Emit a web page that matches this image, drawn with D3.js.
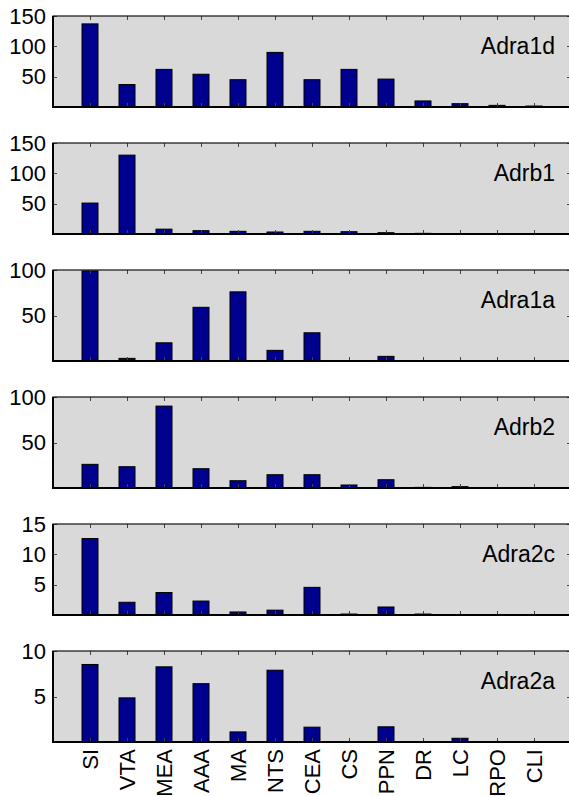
<!DOCTYPE html>
<html>
<head>
<meta charset="utf-8">
<script src="https://cdn.jsdelivr.net/npm/d3@7"></script>
<style>
  body { margin: 0; background: #fff; }
  text { font-family: "Liberation Sans", Arial, sans-serif; fill: #000; }
</style>
</head>
<body>
<svg class="fig" width="569" height="796"></svg>
<script>
var regions = ["SI", "VTA", "MEA", "AAA", "MA", "NTS", "CEA", "CS", "PPN", "DR", "LC", "RPO", "CLI"];

var adra1d = [137, 37, 62, 54, 45, 90, 45, 62, 46, 10, 5.5, 2.7, 1.6];
var adrb1  = [51, 130, 8, 5.5, 4.4, 3.3, 4.4, 3.8, 2.2, 1.1, 0.5, 0.5, 0.5];
var adra1a = [99, 2.9, 20, 59, 76, 11.7, 31, 0, 5.1, 0, 0, 0, 0];
var adrb2  = [26, 23.4, 90, 21.2, 8, 14.6, 14.6, 3.3, 9.1, 0.7, 1.5, 0.4, 0];
var adra2c = [12.6, 2.1, 3.7, 2.3, 0.5, 0.8, 4.56, 0.16, 1.32, 0.16, 0.05, 0.03, 0.03];
var adra2a = [8.52, 4.85, 8.26, 6.41, 1.11, 7.89, 1.63, 0, 1.67, 0, 0.41, 0, 0];

var genes  = ["Adra1d", "Adrb1", "Adra1a", "Adrb2", "Adra2c", "Adra2a"];
var series = [adra1d, adrb1, adra1a, adrb2, adra2c, adra2a];
var yMax   = [150, 150, 100, 100, 15, 10];
var yTicks = [[50, 100, 150], [50, 100, 150], [50, 100], [50, 100], [5, 10, 15], [5, 10]];

var svg = d3.select(".fig"),
    left = 53, right = 571,
    top0 = 16, step = 127, ph = 91,
    tickLen = 4;

var x = d3.scaleLinear()
    .domain([0, regions.length + 1])
    .range([left, right]);
var barW = 16;

series.forEach(function(vals, i) {
  var top = top0 + i * step;
  var y = d3.scaleLinear().domain([0, yMax[i]]).range([top + ph, top]);
  var g = svg.append("g");

  g.append("rect")
      .attr("x", left).attr("y", top)
      .attr("width", right - left).attr("height", ph)
      .attr("fill", "#d9d9d9");

  // bars
  g.selectAll(".bar")
    .data(vals)
    .enter().append("rect")
      .attr("x", function(d, j) { return x(j + 1) - barW / 2; })
      .attr("y", function(d) { return y(d); })
      .attr("width", barW)
      .attr("height", function(d) { return y(0) - y(d); })
      .attr("fill", "#00008f")
      .attr("stroke", "#000")
      .attr("stroke-width", 1);

  // inner ticks, all four sides
  var tk = g.append("g").attr("stroke", "#444").attr("stroke-width", 1);
  regions.forEach(function(r, j) {
    var cx = Math.round(x(j + 1)) + 0.5;
    tk.append("line").attr("x1", cx).attr("x2", cx).attr("y1", top).attr("y2", top + tickLen);
    tk.append("line").attr("x1", cx).attr("x2", cx).attr("y1", top + ph).attr("y2", top + ph - tickLen);
  });
  yTicks[i].forEach(function(t) {
    var cy = Math.round(y(t)) + 0.5;
    tk.append("line").attr("x1", left).attr("x2", left + tickLen).attr("y1", cy).attr("y2", cy);
    tk.append("line").attr("x1", right).attr("x2", right - tickLen).attr("y1", cy).attr("y2", cy);
  });

  // frame: thin top/right, heavier left/bottom
  g.append("rect")
      .attr("x", left).attr("y", top)
      .attr("width", right - left).attr("height", ph)
      .attr("fill", "none")
      .attr("stroke", "#111")
      .attr("stroke-width", 1.2);
  g.append("path")
      .attr("d", "M" + left + "," + top + "V" + (top + ph) + "H" + right)
      .attr("fill", "none")
      .attr("stroke", "#000")
      .attr("stroke-width", 2);

  var yAxis = d3.axisLeft(y).tickValues(yTicks[i]).tickSize(0).tickPadding(7);
  var ax = g.append("g").attr("transform", "translate(" + left + ",0)").call(yAxis);
  ax.select(".domain").remove();
  ax.selectAll("text")
      .style("font-family", "'Liberation Sans', Arial, sans-serif")
      .style("font-size", "22px")
      .attr("fill", "#000");

  g.append("text")
      .attr("x", 555)
      .attr("y", top + 38)
      .attr("text-anchor", "end")
      .style("font-size", "23px")
      .text(genes[i]);
});

// region names under the last panel
var lastBase = top0 + (series.length - 1) * step + ph;
svg.append("g").selectAll("text")
  .data(regions)
  .enter().append("text")
    .attr("transform", function(d, j) {
      return "translate(" + x(j + 1) + "," + (lastBase + 7) + ") rotate(-90)";
    })
    .attr("text-anchor", "end")
    .attr("dominant-baseline", "central")
    .style("font-size", "22px")
    .text(function(d) { return d; });
</script>
</body>
</html>
